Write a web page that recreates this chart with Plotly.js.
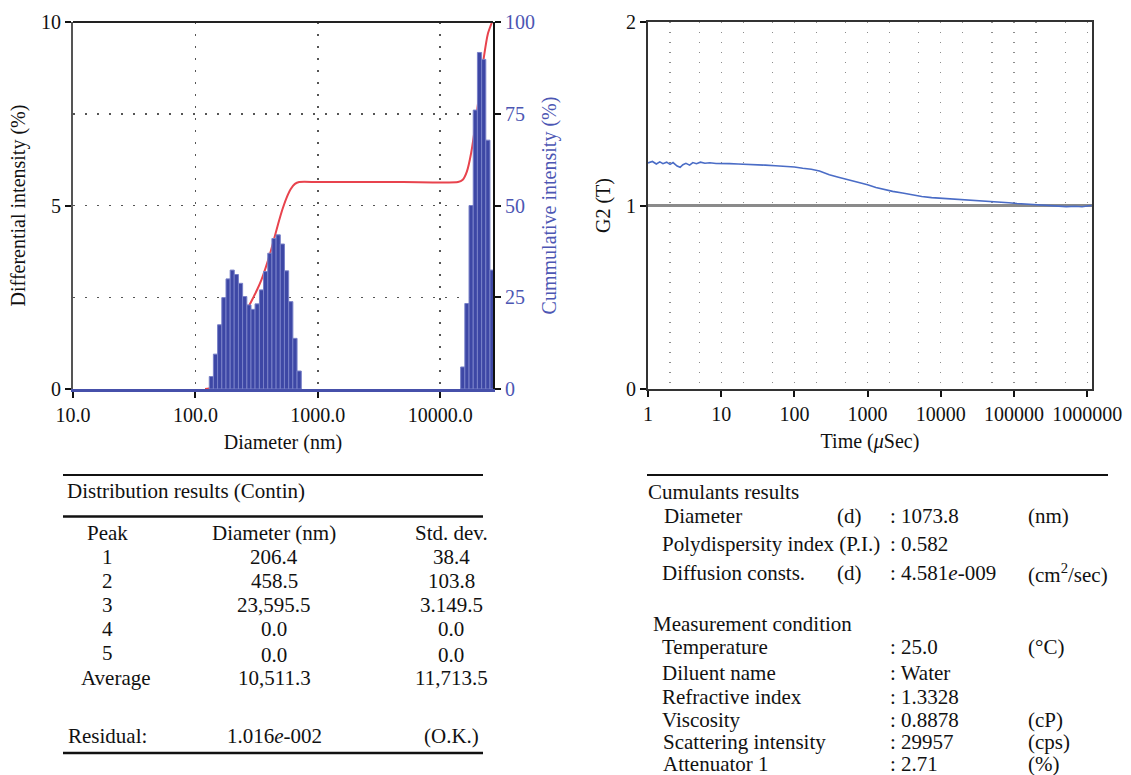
<!DOCTYPE html>
<html><head><meta charset="utf-8">
<script src="https://cdn.plot.ly/plotly-3.0.1.min.js"></script>
<style>html,body{margin:0;padding:0;background:#fff;}#chart{width:1131px;height:775px;}</style>
</head><body><div id="chart"></div>
<script>
// ---------------- DATA ----------------
// Contin distribution: bin centre diameters (nm) and differential intensity (%)
const binDiameter = [135, 146, 158, 171, 185, 200, 216, 234, 253, 274, 296, 320, 347, 375, 406, 439, 475, 514, 556, 602, 651, 705,
                     15300, 16560, 17920, 19390, 20980, 22700, 24560, 26570];
const differentialIntensity = [0.34, 0.95, 1.75, 2.49, 3.00, 3.24, 3.12, 2.88, 2.52, 2.29, 2.17, 2.32, 2.70, 3.20, 3.70, 4.10, 4.20, 3.95, 3.22, 2.38, 1.38, 0.49,
                     0.60, 2.33, 5.00, 7.60, 9.17, 8.98, 6.78, 3.24];
// Cumulative intensity (%) curve
const cumDiameter = [120, 135, 146, 158, 171, 185, 200, 216, 234, 253, 274, 296, 320, 347, 375, 406, 439, 475, 514, 556, 602, 651, 705,
                     1000, 5000, 14000, 15300, 16560, 17920, 19390, 20980, 22700, 24560, 26570];
const cumIntensity = [0, 0.3, 1.3, 3.0, 5.5, 8.5, 11.8, 14.9, 17.8, 20.3, 22.6, 24.8, 27.1, 29.8, 33.0, 36.7, 40.8, 45.0, 48.9, 52.1, 54.5, 55.9, 56.4,
                     56.4, 56.4, 56.4, 57.0, 59.3, 64.3, 71.9, 81.1, 90.1, 96.8, 100.0];
const diamTickVals = [10, 100, 1000, 10000];
const diamTickText = ['10.0', '100.0', '1000.0', '10000.0'];
const diffTickVals = [0, 5, 10];
const cumTickVals = [0, 25, 50, 75, 100];

// Correlation function G2(T) vs time (µs)
const g2Time = [1, 1.15, 1.3, 1.45, 1.6, 1.8, 2.0, 2.2, 2.5, 2.75, 3.0, 3.3, 3.7, 4.1, 4.6, 5.2, 6, 7, 8.5, 10, 13, 17, 22, 30, 40, 55, 75,
                100, 130, 170, 220, 300, 400, 550, 750, 1000, 1300, 1700, 2200, 3000, 4000, 5500, 7500, 10000, 15000, 22000, 32000,
                45000, 63000, 85000, 110000, 160000, 240000, 350000, 520000, 700000, 850000, 1000000, 1150000];
const g2Value = [1.232, 1.240, 1.226, 1.238, 1.228, 1.236, 1.224, 1.234, 1.215, 1.208, 1.222, 1.230, 1.220, 1.234, 1.228, 1.236, 1.230, 1.233, 1.229, 1.230,
                 1.228, 1.226, 1.225, 1.224, 1.220, 1.217, 1.214, 1.210, 1.203, 1.198, 1.188, 1.168, 1.154, 1.140, 1.127, 1.113, 1.098, 1.086, 1.077,
                 1.068, 1.058, 1.049, 1.043, 1.040, 1.036, 1.033, 1.028, 1.024, 1.020, 1.015, 1.011, 1.006, 1.001, 0.996, 0.994, 0.996, 0.993, 0.997, 1.000];
const g2Baseline = 1;
const timeTickVals = [1, 10, 100, 1000, 10000, 100000, 1000000];
const timeTickText = ['1', '10', '100', '1000', '10000', '100000', '1000000'];
const g2TickVals = [0, 1, 2];

// Distribution results (Contin) table
const peakLabels = ['1', '2', '3', '4', '5', 'Average'];
const peakDiameter = ['206.4', '458.5', '23,595.5', '0.0', '0.0', '10,511.3'];
const peakStdDev = ['38.4', '103.8', '3.149.5', '0.0', '0.0', '11,713.5'];
const residualValue = '1.016<i>e</i>-002';
const residualStatus = '(O.K.)';

// Cumulants results / measurement condition table
const cumulantsLabels = ['Diameter', 'Polydispersity index (P.I.)', 'Diffusion consts.'];
const cumulantsQualifier = ['(d)', '', '(d)'];
const cumulantsValues = ['1073.8', '0.582', '4.581<i>e</i>-009'];
const cumulantsUnits = ['(nm)', '', '(cm<sup>2</sup>/sec)'];
const conditionLabels = ['Temperature', 'Diluent name', 'Refractive index', 'Viscosity', 'Scattering intensity', 'Attenuator 1'];
const conditionValues = ['25.0', 'Water', '1.3328', '0.8878', '29957', '2.71'];
const conditionUnits = ['(°C)', '', '', '(cP)', '(cps)', '(%)'];

// ---------------- LAYOUT HELPERS ----------------
const W = 1131, H = 775;
const px = x => x / W, py = y => 1 - y / H;
const FONT = 'Liberation Serif, Times New Roman, serif';
const BLUE_TXT = '#4c56b3';

// bar extents on the log axis (geometric half-bin around each centre)
const n = binDiameter.length;
const barOffset = [], barWidth = [];
for (let i = 0; i < n; i++) {
  let r;
  if (i + 1 < n && binDiameter[i + 1] / binDiameter[i] < 1.5) r = binDiameter[i + 1] / binDiameter[i];
  else r = binDiameter[i] / binDiameter[i - 1];
  const h = Math.sqrt(r);
  const lo = binDiameter[i] / h, hi = binDiameter[i] * h;
  barOffset.push(lo - binDiameter[i]);
  barWidth.push(hi - lo);
}

const traces = [
  { type: 'scatter', mode: 'lines', x: cumDiameter, y: cumIntensity, xaxis: 'x', yaxis: 'y',
    line: { color: '#e8434d', width: 2, shape: 'spline', smoothing: 0.6 }, hoverinfo: 'skip' },
  { type: 'bar', x: binDiameter, y: differentialIntensity, xaxis: 'x', yaxis: 'y2',
    offset: barOffset, width: barWidth,
    marker: { color: '#3d47a5', line: { color: '#7880c8', width: 1 } }, hoverinfo: 'skip' },
  { type: 'scatter', mode: 'lines', x: g2Time, y: g2Value, xaxis: 'x2', yaxis: 'y3',
    line: { color: '#4a6cc6', width: 1.6 }, hoverinfo: 'skip' }
];

const tickCommon = { ticks: 'outside', ticklen: 6, tickwidth: 2, tickcolor: '#111', tickfont: { size: 20, family: FONT, color: '#111' } };
const yDom = [py(389), py(22)];

const shapes = [
  { type: 'line', xref: 'paper', yref: 'paper', x0: px(73), x1: px(493), y0: yDom[1], y1: yDom[1], line: { color: '#222', width: 2 } },
  { type: 'line', xref: 'paper', yref: 'y3', x0: px(648), x1: px(1092), y0: g2Baseline, y1: g2Baseline, line: { color: '#8a8a8a', width: 3 }, layer: 'below' },
  // table rules
  { type: 'line', xref: 'paper', yref: 'paper', x0: px(63), x1: px(483), y0: py(475), y1: py(475), line: { color: '#111', width: 2 } },
  { type: 'line', xref: 'paper', yref: 'paper', x0: px(63), x1: px(483), y0: py(516.5), y1: py(516.5), line: { color: '#111', width: 2.5 } },
  { type: 'line', xref: 'paper', yref: 'paper', x0: px(63), x1: px(483), y0: py(753), y1: py(753), line: { color: '#111', width: 2.5 } },
  { type: 'line', xref: 'paper', yref: 'paper', x0: px(647), x1: px(1108), y0: py(475), y1: py(475), line: { color: '#111', width: 2 } }
];

const annotations = [];
function txt(text, x, y, anchor) {
  annotations.push({ text: text, xref: 'paper', yref: 'paper', x: px(x), y: py(y), xanchor: anchor || 'center', yanchor: 'middle',
    showarrow: false, font: { size: 21, family: FONT, color: '#111' } });
}
// left table
txt('Distribution results (Contin)', 65, 491, 'left');
txt('Peak', 108, 533);
txt('Diameter (nm)', 274, 533);
txt('Std. dev.', 451, 533);
const rowY = [557, 581, 605, 629, 655, 678];
const peakX = [108, 108, 108, 108, 108, 116];
for (let i = 0; i < peakLabels.length; i++) {
  txt(peakLabels[i], peakX[i], rowY[i] - (i === 4 ? 2 : 0));
  txt(peakDiameter[i], 274, rowY[i]);
  txt(peakStdDev[i], 451, rowY[i]);
}
txt('Residual:', 66, 736, 'left');
txt(residualValue, 274, 736);
txt(residualStatus, 451, 736);
// right table
txt('Cumulants results', 646, 492, 'left');
const cumY = [516, 544, 573];
const cumLX = [662, 660, 660];
for (let i = 0; i < cumulantsLabels.length; i++) {
  txt(cumulantsLabels[i], cumLX[i], cumY[i], 'left');
  if (cumulantsQualifier[i]) txt(cumulantsQualifier[i], 835, cumY[i], 'left');
  txt(': ' + cumulantsValues[i], 888, cumY[i], 'left');
  if (cumulantsUnits[i]) txt(cumulantsUnits[i], 1026, cumY[i], 'left');
}
txt('Measurement condition', 651, 624, 'left');
const condY = [647, 673, 697, 720, 742, 764];
const condLX = [660, 660, 660, 660, 661, 661];
for (let i = 0; i < conditionLabels.length; i++) {
  txt(conditionLabels[i], condLX[i], condY[i], 'left');
  txt(': ' + conditionValues[i], 888, condY[i], 'left');
  if (conditionUnits[i]) txt(conditionUnits[i], 1026, condY[i], 'left');
}

const layout = {
  width: W, height: H, margin: { l: 0, r: 0, t: 0, b: 0 },
  paper_bgcolor: '#fff', plot_bgcolor: '#fff', showlegend: false,
  font: { family: FONT, size: 20, color: '#111' },
  xaxis: Object.assign({}, tickCommon, {
    type: 'log', domain: [px(73), px(493)], range: [1, 4.432], anchor: 'y',
    tickmode: 'array', tickvals: diamTickVals, ticktext: diamTickText,
    showline: true, linecolor: '#4650aa', linewidth: 3,
    showgrid: true, gridcolor: '#555', gridwidth: 1.5, griddash: '2px,10px', zeroline: false,
    title: { text: 'Diameter (nm)', font: { size: 20, family: FONT, color: '#111' }, standoff: 10 }
  }),
  yaxis: Object.assign({}, tickCommon, {
    domain: yDom, range: [0, 100], side: 'right', anchor: 'x',
    tickmode: 'array', tickvals: cumTickVals,
    tickfont: { size: 20, family: FONT, color: BLUE_TXT },
    showline: true, linecolor: '#111', linewidth: 2,
    showgrid: true, gridcolor: '#555', gridwidth: 1.5, griddash: '2px,10px', zeroline: false,
    title: { text: 'Cummulative intensity (%)', font: { size: 20, family: FONT, color: BLUE_TXT }, standoff: 8 }
  }),
  yaxis2: Object.assign({}, tickCommon, {
    overlaying: 'y', side: 'left', anchor: 'x', range: [0, 10],
    tickmode: 'array', tickvals: diffTickVals,
    showline: true, linecolor: '#555', linewidth: 2, showgrid: false, zeroline: false,
    title: { text: 'Differential intensity (%)', font: { size: 20, family: FONT, color: '#111' }, standoff: 10 }
  }),
  xaxis2: Object.assign({}, tickCommon, {
    type: 'log', domain: [px(648), px(1092)], range: [0, 6.066], anchor: 'y3',
    tickmode: 'array', tickvals: timeTickVals, ticktext: timeTickText,
    showline: true, mirror: true, linecolor: '#333', linewidth: 2,
    showgrid: true, gridcolor: '#8c8c8c', gridwidth: 1.2, griddash: '1px,9px', zeroline: false,
    minor: { tickmode: 'auto', dtick: 'D1', showgrid: true, gridcolor: '#8c8c8c', gridwidth: 1.2, griddash: '1px,9px', ticks: '' },
    title: { text: 'Time (<i>μ</i>Sec)', font: { size: 20, family: FONT, color: '#111' }, standoff: 10 }
  }),
  yaxis3: Object.assign({}, tickCommon, {
    domain: yDom, range: [0, 2], anchor: 'x2',
    tickmode: 'array', tickvals: g2TickVals,
    showline: true, mirror: true, linecolor: '#333', linewidth: 2, showgrid: false, zeroline: false,
    title: { text: 'G2 (T)', font: { size: 20, family: FONT, color: '#111' }, standoff: 10 }
  }),
  shapes: shapes,
  annotations: annotations
};

Plotly.newPlot('chart', traces, layout, { displayModeBar: false, staticPlot: true });
</script>
</body></html>
